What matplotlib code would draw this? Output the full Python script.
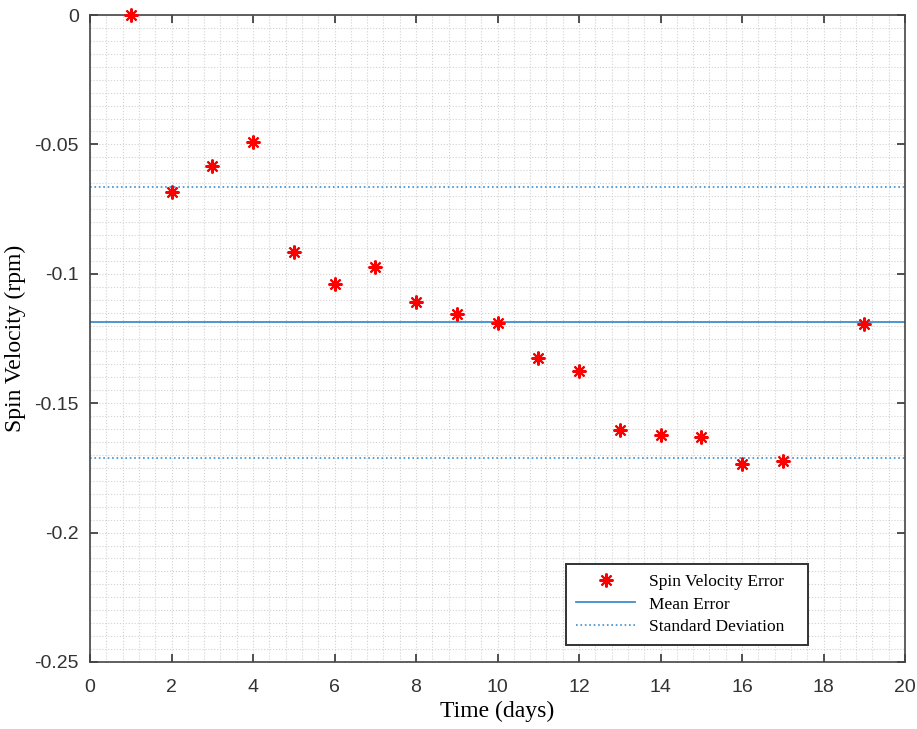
import numpy as np
import matplotlib.pyplot as plt
from matplotlib.ticker import MultipleLocator

# Spin velocity error per day
days = [1, 2, 3, 4, 5, 6, 7, 8, 9, 10, 11, 12, 13, 14, 15, 16, 17, 19]
spin_err = [0.0, -0.0684, -0.0583, -0.0491, -0.0916, -0.1039, -0.0974, -0.1109,
            -0.1155, -0.1190, -0.1325, -0.1376, -0.1604, -0.1623, -0.1631,
            -0.1735, -0.1723, -0.1194]
mean_err = -0.1186
std_bounds = [-0.0665, -0.1712]

blue = '#3B8ED0'

fig = plt.figure(figsize=(9.17, 7.29), dpi=100)
ax = fig.add_axes([90/917, 1 - 662/729, 815/917, 647/729])

# MATLAB style asterisk: plus + cross
ax.plot(days, spin_err, ls='none', marker=(8, 2, 0), color='red', markersize=10,
        markeredgewidth=1.5, label='Spin Velocity Error', zorder=5, clip_on=False)
ax.axhline(mean_err, color=blue, lw=1.3, label='Mean Error')
ax.axhline(std_bounds[0], color=blue, lw=1.2, ls=':', label='Standard Deviation')
ax.axhline(std_bounds[1], color=blue, lw=1.2, ls=':')

ax.set_xlim(0, 20)
ax.set_ylim(-0.25, 0)
ax.xaxis.set_major_locator(MultipleLocator(2))
ax.xaxis.set_minor_locator(MultipleLocator(0.4))
ax.yaxis.set_major_locator(MultipleLocator(0.05))
ax.yaxis.set_minor_locator(MultipleLocator(0.005))
ax.set_yticks([0, -0.05, -0.1, -0.15, -0.2, -0.25])
ax.set_yticklabels(['0', '-0.05', '-0.1', '-0.15', '-0.2', '-0.25'])
for lab in ax.get_xticklabels() + ax.get_yticklabels():
    lab.set_family('Liberation Sans')

ax.grid(which='both', color='#d2d2d2', ls=':', lw=0.8)
ax.set_axisbelow(True)
ax.tick_params(which='major', direction='in', length=6, width=1.2, top=True, right=True,
               labelsize=14, colors='#333333', pad=8)
ax.tick_params(axis='x', which='major', pad=12)
ax.tick_params(which='minor', length=0)
for s in ax.spines.values():
    s.set_color('#444444')
    s.set_linewidth(1.2)

serif = 'Liberation Serif'
ax.set_xlabel('Time (days)', fontsize=17, family=serif, labelpad=4)
ax.set_ylabel('Spin Velocity (rpm)', fontsize=17, family=serif, labelpad=6)

leg = ax.legend(loc='lower right', bbox_to_anchor=(0.881, 0.026),
                prop={'family': serif, 'size': 12.5},
                fancybox=False, edgecolor='#333333', framealpha=1, borderpad=0.6,
                handlelength=3.4, handletextpad=0.8, labelspacing=0.35, borderaxespad=0)
leg.get_frame().set_linewidth(1.4)
for t in leg.get_texts():
    t.set_text(t.get_text() + '   ')

fig.savefig('out.png', dpi=100)
